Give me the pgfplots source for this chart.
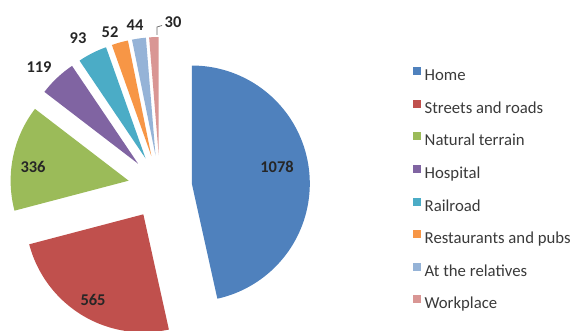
\documentclass[border=0pt]{standalone}
\usepackage{fontspec}
\setmainfont{Carlito}
\usepackage{pgfplots}
\usepackage{pgfplotstable}
\pgfplotsset{compat=1.18}
\definecolor{pc0}{HTML}{4F81BD}
\definecolor{pc1}{HTML}{C0504D}
\definecolor{pc2}{HTML}{9BBB59}
\definecolor{pc3}{HTML}{8064A2}
\definecolor{pc4}{HTML}{4BACC6}
\definecolor{pc5}{HTML}{F79646}
\definecolor{pc6}{HTML}{95B3D7}
\definecolor{pc7}{HTML}{D99694}
\definecolor{legtext}{HTML}{3A3A3A}
\definecolor{labtext}{HTML}{262626}

\pgfplotstableread[col sep=comma]{
name,value
Home,1078
Streets and roads,565
Natural terrain,336
Hospital,119
Railroad,93
Restaurants and pubs,52
At the relatives,44
Workplace,30
}\piedata

% pie geometry (in picture units): centre, explode distance, radius
\def\pieCX{160}\def\pieCY{144}\def\pieD{32}\def\pieR{118}

\def\pieTotal{0}
\pgfplotsforeachungrouped \i in {0,...,7}{%
  \pgfplotstablegetelem{\i}{value}\of\piedata
  \pgfmathsetmacro\pieTotal{\pieTotal+\pgfplotsretval}%
}
\def\pieCum{0}
\pgfplotsforeachungrouped \i in {0,...,7}{%
  \pgfplotstablegetelem{\i}{value}\of\piedata
  \pgfmathsetmacro\tmpS{90-360*(\pieCum/\pieTotal)}%
  \pgfmathsetmacro\pieCum{\pieCum+\pgfplotsretval}%
  \pgfmathsetmacro\tmpE{90-360*(\pieCum/\pieTotal)}%
  \pgfmathsetmacro\tmpM{(\tmpS+\tmpE)/2}%
  \pgfmathsetmacro\tmpX{\pieCX+\pieD*cos(\tmpM)}%
  \pgfmathsetmacro\tmpY{\pieCY+\pieD*sin(\tmpM)}%
  \expandafter\xdef\csname pieS\i\endcsname{\tmpS}%
  \expandafter\xdef\csname pieE\i\endcsname{\tmpE}%
  \expandafter\xdef\csname pieX\i\endcsname{\tmpX}%
  \expandafter\xdef\csname pieY\i\endcsname{\tmpY}%
}

\begin{document}
\begin{tikzpicture}
\begin{axis}[
  width=587bp, height=331bp, scale only axis,
  xmin=0, xmax=587, ymin=0, ymax=331,
  hide axis, clip=true,
  legend entries={Home,Streets and roads,Natural terrain,Hospital,Railroad,Restaurants and pubs,At the relatives,Workplace},
  legend cell align=left,
  legend image code/.code={\fill[#1] (0bp,1.5bp) rectangle (8bp,9.5bp);},
  legend style={at={(axis cs:413,264)}, anchor=north west, draw=none, fill=none,
    inner sep=0pt, row sep=16.1bp, column sep=3.5bp,
    nodes={inner sep=0pt, text height=11bp, text depth=3bp,
      font=\fontsize{16.8}{18}\selectfont, text=legtext}},
]
\pgfplotsinvokeforeach{0,...,7}{
  \addplot[fill=pc#1, draw=none, domain=\csname pieE#1\endcsname:\csname pieS#1\endcsname, samples=80]
    ({\csname pieX#1\endcsname+\pieR*cos(x)}, {\csname pieY#1\endcsname+\pieR*sin(x)})
    -- (axis cs:\csname pieX#1\endcsname,\csname pieY#1\endcsname) -- cycle;
}
\addplot[forget plot, draw=gray!80!black, line width=0.7pt] coordinates {(157,296) (157,304) (162,305.5)};
\begin{scope}[every node/.style={font=\fontsize{16.5}{18}\selectfont\bfseries, text=labtext, inner sep=0pt}]
\node at (axis cs:277,164) {1078};
\node at (axis cs:93,31) {565};
\node at (axis cs:33,164) {336};
\node at (axis cs:39,264) {119};
\node at (axis cs:78,293) {93};
\node at (axis cs:110,299) {52};
\node at (axis cs:135,306) {44};
\node at (axis cs:173,308.5) {30};
\end{scope}
\end{axis}
\pgfresetboundingbox
\useasboundingbox (current axis.south west) rectangle (current axis.north east);
\end{tikzpicture}
\end{document}
